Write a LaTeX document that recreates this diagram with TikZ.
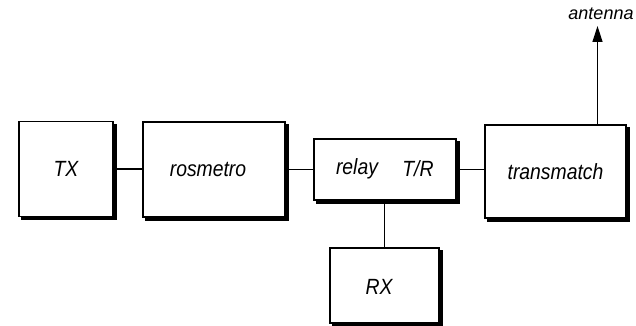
\documentclass[tikz,border=0pt]{standalone}
\usepackage{fontspec}
\setsansfont[FakeStretch=0.88]{Liberation Sans}
\newfontfamily\antfont{Liberation Sans}
\usetikzlibrary{arrows.meta,backgrounds}
\tikzset{
  blk/.style={draw=black, line width=1.5pt, fill=white, inner sep=0pt,
    font=\sffamily\itshape\fontsize{22}{25}\selectfont},
  shad/.style={fill=black},
  wire/.style={line width=1.4pt},
  lbl/.style={font=\sffamily\itshape\fontsize{22}{25}\selectfont, inner sep=0pt}
}
\newcommand{\boxshadow}[1]{\fill[shad] ([shift={(3.2,3.2)}]#1.north west) rectangle ([shift={(3.2,3.2)}]#1.south east);}
\begin{document}
\begin{tikzpicture}[x=1pt,y=-1pt]
\useasboundingbox (0,0) rectangle (636,326);
\node[blk, minimum width=94pt, minimum height=95pt] (tx) at (66,169) {TX};
\node[blk, minimum width=142pt, minimum height=95pt] (ros) at (214,169.5) {};
\node[lbl] (roslbl) at (208,169) {rosmetro};
\node[blk, minimum width=142pt, minimum height=61pt] (rel) at (385,169.5) {};
\node[lbl] (rellbl) at (357,169) {relay};
\node[lbl] (trlbl) at (418,169) {T/R};
\node[blk, minimum width=141pt, minimum height=93pt] (tm) at (555.5,171.5) {transmatch};
\node[blk, minimum width=109pt, minimum height=75pt] (rx) at (384.5,285.5) {};
\node[lbl] (rxlbl) at (379,287) {RX};
\begin{scope}[on background layer]
\boxshadow{tx}\boxshadow{ros}\boxshadow{rel}\boxshadow{tm}\boxshadow{rx}
\end{scope}
\coordinate (tip) at (597.5,26);
\node[font=\antfont\itshape\fontsize{18}{21}\selectfont, inner sep=0pt] (ant) at (601,14) {antenna};
\draw[wire] (tx.east) -- (tx.east -| ros.west);
\draw[wire] (ros.east) -- (ros.east -| rel.west);
\draw[wire] (rel.east) -- (rel.east -| tm.west);
\draw[wire] (rel.south -| rx.north) -- (rx.north);
\draw[wire, -{Triangle[length=16pt,width=10pt]}] (tm.north -| tip) -- (tip);
\end{tikzpicture}
\end{document}
